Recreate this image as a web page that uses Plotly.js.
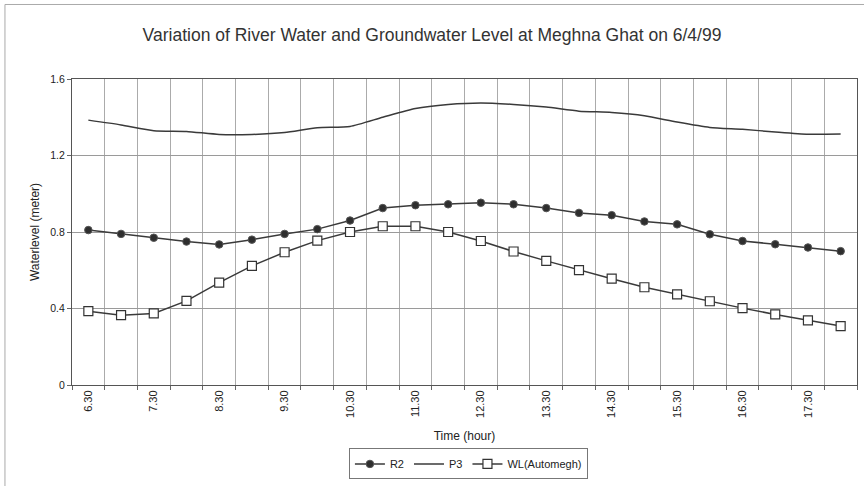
<!DOCTYPE html>
<html>
<head>
<meta charset="utf-8">
<script src="https://cdn.plot.ly/plotly-3.0.1.min.js"></script>
<style>html,body{margin:0;padding:0;background:#fff;}#chart{width:864px;height:486px;}</style>
</head>
<body>
<div id="chart"></div>
<script>
const categories = ["6.30","7.00","7.30","8.00","8.30","9.00","9.30","10.00","10.30","11.00","11.30","12.00",
  "12.30","13.00","13.30","14.00","14.30","15.00","15.30","16.00","16.30","17.00","17.30","18.00"];
const tickLabels = ["6.30","","7.30","","8.30","","9.30","","10.30","","11.30","",
  "12.30","","13.30","","14.30","","15.30","","16.30","","17.30",""];
const r2 = [0.81,0.79,0.77,0.75,0.735,0.76,0.79,0.815,0.86,0.925,0.94,0.945,
  0.953,0.945,0.925,0.90,0.888,0.855,0.84,0.788,0.753,0.736,0.719,0.70];
const p3 = [1.385,1.36,1.33,1.326,1.31,1.31,1.32,1.345,1.352,1.40,1.446,1.467,
  1.475,1.467,1.453,1.432,1.425,1.408,1.375,1.347,1.337,1.323,1.311,1.312];
const wl = [0.386,0.365,0.374,0.44,0.535,0.623,0.694,0.755,0.80,0.83,0.83,0.80,
  0.753,0.698,0.649,0.601,0.556,0.511,0.474,0.438,0.402,0.369,0.338,0.308];

const lineCol = '#3a3a3a';
const traces = [
  {x: categories, y: r2, name: 'R2', type: 'scatter', mode: 'lines+markers',
   line: {color: lineCol, width: 1.5},
   marker: {symbol: 'circle', size: 7.5, color: '#2e2e2e', line: {color: '#555', width: 1}}},
  {x: categories, y: p3, name: 'P3', type: 'scatter', mode: 'lines',
   line: {color: lineCol, width: 1.5, shape: 'spline', smoothing: 0.6}},
  {x: categories, y: wl, name: 'WL(Automegh)', type: 'scatter', mode: 'lines+markers',
   line: {color: lineCol, width: 1.5},
   marker: {symbol: 'square', size: 9, color: '#ffffff', line: {color: '#333', width: 1.2}}}
];

const layout = {
  width: 864, height: 486,
  margin: {l: 72, r: 7, t: 79, b: 99},
  paper_bgcolor: '#fff', plot_bgcolor: '#fff',
  font: {family: 'Liberation Sans, Arial, sans-serif', color: '#222', size: 11},
  title: {text: 'Variation of River Water and Groundwater Level at Meghna Ghat on 6/4/99',
    font: {size: 17.5, color: '#333'}, x: 0.5, xref: 'container', y: 0.928, yanchor: 'middle'},
  xaxis: {
    type: 'category', categoryorder: 'array', categoryarray: categories,
    range: [-0.5, 23.5], tickmode: 'array', tickvals: categories, ticktext: tickLabels,
    tickson: 'boundaries', ticks: 'outside', ticklen: 4, tickcolor: '#666',
    tickangle: -90, tickfont: {size: 11, color: '#222'},
    showgrid: true, gridcolor: '#ababab', gridwidth: 1,
    showline: true, linecolor: '#555', linewidth: 1, mirror: true, zeroline: false,
    title: {text: 'Time (hour)', font: {size: 12, color: '#222'}, standoff: 14}
  },
  yaxis: {
    range: [0, 1.6], tickmode: 'array', tickvals: [0, 0.4, 0.8, 1.2, 1.6],
    ticktext: ['0', '0.4', '0.8', '1.2', '1.6'],
    ticks: 'outside', ticklen: 4, tickcolor: '#666', tickfont: {size: 10.5, color: '#222'},
    showgrid: true, gridcolor: '#9a9a9a', gridwidth: 1,
    showline: true, linecolor: '#555', linewidth: 1, mirror: true, zeroline: false,
    title: {text: 'Waterlevel (meter)', font: {size: 12, color: '#222'}, standoff: 8}
  },
  showlegend: true,
  legend: {orientation: 'h', x: 0.505, xanchor: 'center', y: -0.258, yanchor: 'middle',
    bordercolor: '#777', borderwidth: 1, bgcolor: '#fff', font: {size: 11, color: '#222'},
    itemwidth: 30, tracegroupgap: 0},
  shapes: [
    {type: 'rect', xref: 'paper', yref: 'paper', x0: -0.0854, x1: 1.2, y0: -0.5, y1: 1.2435,
     line: {color: '#aaa', width: 1}, fillcolor: 'rgba(0,0,0,0)', layer: 'below'}
  ]
};

Plotly.newPlot('chart', traces, layout, {displayModeBar: false, staticPlot: true});
</script>
</body>
</html>
